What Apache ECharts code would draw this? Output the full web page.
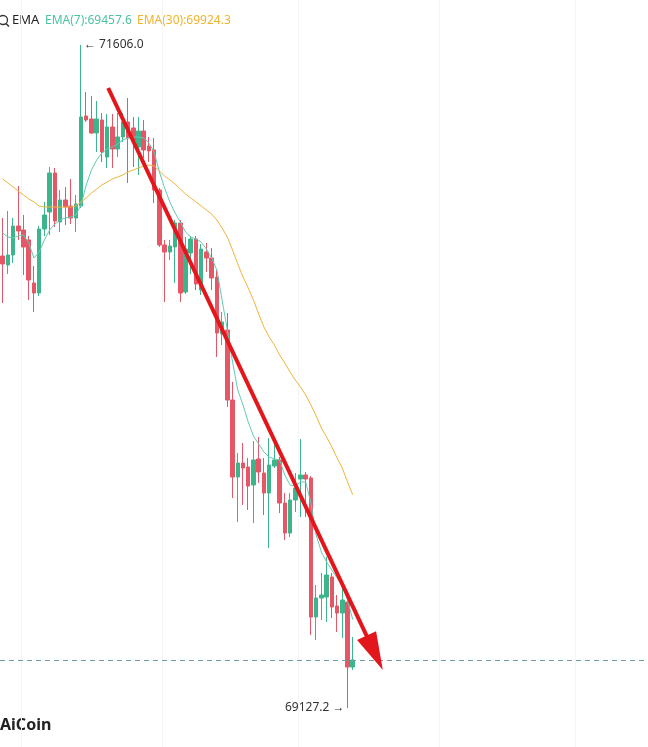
<!DOCTYPE html>
<html>
<head>
<meta charset="utf-8">
<script src="https://cdn.jsdelivr.net/npm/echarts@6/dist/echarts.min.js"></script>
<style>
html,body{margin:0;padding:0;background:#fff;}
#chart{width:648px;height:747px;}
</style>
</head>
<body>
<div id="chart"></div>
<script>
// ---- data ----
const opens = [70817.1, 70783.4, 70820.8, 70929.2, 70914.3, 70876.9, 70716.1, 70678.7, 70918.0, 70981.6,
  71127.4, 70944.2, 71026.4, 71004.0, 70959.1, 71004.0, 71340.5, 71329.3, 71276.9, 71325.5,
  71187.2, 71299.4, 71217.1, 71262.0, 71318.1, 71295.6, 71224.6, 71284.4, 71228.3, 71213.4,
  71063.8, 70858.2, 70832.0, 70850.7, 70940.5, 70682.5, 70828.3, 70880.6, 70690.0, 70832.0,
  70809.6, 70738.6, 70525.4, 70540.4, 70278.7, 69990.8, 70043.1, 70028.2, 69960.9, 70058.1,
  70005.8, 69931.0, 70031.9, 70054.4, 69893.6, 69781.4, 69904.8, 69983.3, 69998.3, 69987.1,
  69467.4, 69538.4, 69542.1, 69616.9, 69508.5, 69482.3, 69523.4, 69280.4];
const closes = [70787.2, 70820.8, 70929.2, 70910.5, 70850.7, 70727.3, 70678.7, 70918.0, 70970.4, 71127.4,
  70947.9, 71026.4, 71000.3, 70959.1, 71011.5, 71336.8, 71325.5, 71276.9, 71329.3, 71205.9,
  71299.4, 71217.1, 71262.0, 71318.1, 71258.2, 71247.0, 71284.4, 71213.4, 71209.6, 71063.8,
  70858.2, 70832.0, 70854.5, 70940.5, 70678.7, 70843.2, 70880.6, 70712.4, 70843.2, 70809.6,
  70734.8, 70529.2, 70570.3, 70278.7, 69990.8, 70043.1, 70024.4, 69957.1, 70054.4, 70009.5,
  69931.0, 70035.7, 70054.4, 69893.6, 69781.4, 69904.8, 69949.7, 69998.3, 69983.3, 69467.4,
  69538.4, 69549.6, 69624.4, 69504.8, 69482.3, 69530.9, 69280.4, 69306.6];
const lows = [70641.3, 70749.8, 70790.9, 70876.9, 70746.0, 70652.6, 70607.7, 70667.5, 70891.8, 70895.6,
  70925.5, 70906.8, 70933.0, 70936.7, 70906.8, 70996.5, 71318.1, 71273.2, 71205.9, 71168.5,
  71146.1, 71146.1, 71187.2, 71243.3, 71090.0, 71149.8, 71119.9, 71183.5, 71168.5, 71015.2,
  70850.7, 70645.1, 70802.1, 70716.1, 70645.1, 70675.0, 70749.8, 70690.0, 70671.3, 70757.3,
  70690.0, 70439.5, 70484.3, 70252.5, 69912.3, 69822.6, 69886.1, 69867.4, 69818.8, 69968.4,
  69848.7, 69725.3, 70024.4, 69856.2, 69755.3, 69766.5, 69859.9, 69841.2, 69841.2, 69400.1,
  69381.4, 69456.1, 69448.7, 69463.6, 69411.3, 69388.9, 69127.2, 69269.2];
const highs = [70959.1, 70985.3, 70959.1, 71078.8, 70970.4, 70891.8, 70779.7, 70929.2, 71019.0, 71149.8,
  71146.1, 71063.8, 71075.0, 71105.0, 71045.1, 71606.0, 71430.2, 71415.3, 71396.6, 71351.7,
  71348.0, 71348.0, 71351.7, 71351.7, 71407.8, 71336.8, 71336.8, 71325.5, 71262.0, 71258.2,
  71071.3, 70876.9, 70876.9, 70951.7, 70951.7, 70888.1, 70891.8, 70891.8, 70861.9, 70865.7,
  70847.0, 70764.7, 70607.7, 70604.0, 70346.0, 70080.5, 70117.9, 70061.8, 70125.4, 70140.3,
  70061.8, 70136.6, 70110.4, 70065.6, 69931.0, 69931.0, 70005.8, 70132.9, 70009.5, 69994.5,
  69587.0, 69631.9, 69691.7, 69631.9, 69549.6, 69587.0, 69538.4, 69392.6];
const ma7 = [70903.1, 70888.1, 70884.4, 70891.8, 70895.6, 70865.7, 70809.6, 70832.0, 70876.9, 70914.3,
  70936.7, 70951.7, 70959.1, 70962.9, 70970.4, 71007.8, 71082.5, 71138.6, 71176.0, 71202.2,
  71217.1, 71224.6, 71235.8, 71250.8, 71258.2, 71262.0, 71262.0, 71258.2, 71239.6, 71205.9,
  71131.1, 71071.3, 71019.0, 70977.8, 70944.2, 70906.8, 70888.1, 70880.6, 70869.4, 70843.2,
  70809.6, 70764.7, 70652.6, 70540.4, 70420.8, 70316.1, 70260.0, 70196.4, 70144.1, 70114.2,
  70084.3, 70065.6, 70058.1, 70054.4, 69998.3, 69960.9, 69957.1, 69972.1, 69972.1, 69893.6,
  69773.9, 69710.4, 69673.0, 69643.1, 69613.2, 69587.0, 69530.9, 69457.6];
const ema30 = [71105.0, 71090.0, 71075.0, 71060.1, 71045.1, 71030.2, 71019.0, 71004.0, 71000.3, 71000.3,
  71000.3, 71000.3, 71000.3, 71000.3, 71004.0, 71019.0, 71033.9, 71052.6, 71067.6, 71082.5,
  71093.7, 71105.0, 71112.4, 71119.9, 71131.1, 71138.6, 71146.1, 71153.6, 71157.3, 71153.6,
  71134.9, 71116.2, 71101.2, 71086.3, 71067.6, 71048.9, 71033.9, 71019.0, 71004.0, 70989.1,
  70974.1, 70951.7, 70921.8, 70888.1, 70839.5, 70787.2, 70738.6, 70697.4, 70652.6, 70600.2,
  70551.6, 70514.2, 70484.3, 70446.9, 70417.0, 70383.4, 70353.5, 70327.3, 70297.4, 70260.0,
  70218.9, 70174.0, 70140.3, 70103.0, 70061.8, 70024.4, 69972.1, 69924.3];
// trend arrow drawn on the chart (slot index, price)
const arrowFrom = [20.2, 71445.2];
const arrowTo = [71.2, 69333.5];
const totalSlots = 124;
const gridCols = [4, 31, 57, 84, 110];
const priceMin = 68981.3, priceMax = 71774.2;

// ---- build ----
const slots = [];
for (let i = 0; i < totalSlots; i++) slots.push(String(i + 1));
const candles = opens.map((o, i) => [o, closes[i], lows[i], highs[i]]);
const last = closes.length - 1;
const fmt = v => v.toFixed(1);

const UP = '#3cb58c', DOWN = '#e55766';
const chart = echarts.init(document.getElementById('chart'), null, {renderer: 'canvas'});
chart.setOption({
  animation: false,
  backgroundColor: '#ffffff',
  grid: {left: 0, right: 0, top: 0, bottom: 0},
  xAxis: [{
    type: 'category', data: slots, boundaryGap: true,
    axisLine: {show: false}, axisTick: {show: false}, axisLabel: {show: false},
    splitLine: {show: true, interval: (i) => gridCols.indexOf(i) >= 0, lineStyle: {color: '#f5f5f5', width: 1}}
  }, {
    type: 'value', min: -0.5, max: totalSlots - 0.5, show: false, splitLine: {show: false}
  }],
  yAxis: [{
    type: 'value', min: priceMin, max: priceMax, show: false, scale: true, splitLine: {show: false}
  }],
  series: [{
    type: 'candlestick', name: 'K', xAxisIndex: 0, yAxisIndex: 0,
    data: candles, barWidth: 4,
    itemStyle: {color: UP, color0: DOWN, borderColor: UP, borderColor0: DOWN, borderWidth: 1},
    markPoint: {
      symbol: 'circle', symbolSize: 0,
      data: [
        {type: 'max', valueDim: 'highest', label: {position: 'right', distance: 3, formatter: p => '← ' + fmt(p.value)}},
        {type: 'min', valueDim: 'lowest', label: {position: 'left', distance: 3, formatter: p => fmt(p.value) + ' →'}}
      ],
      label: {show: true, color: '#333', fontSize: 12, fontFamily: 'Noto Sans'}
    },
    markLine: {
      silent: true, symbol: 'none', label: {show: false},
      lineStyle: {type: [5, 4], color: '#6e9fa0', width: 1},
      data: [{yAxis: closes[last]}]
    }
  }, {
    type: 'line', name: 'EMA(7)', data: ma7, xAxisIndex: 0, yAxisIndex: 0,
    symbol: 'none', lineStyle: {color: '#62cbb4', width: 1}, z: 3
  }, {
    type: 'line', name: 'EMA(30)', data: ema30, xAxisIndex: 0, yAxisIndex: 0,
    symbol: 'none', lineStyle: {color: '#f0b43c', width: 1}, z: 3
  }, {
    type: 'lines', coordinateSystem: 'cartesian2d', xAxisIndex: 1, yAxisIndex: 0,
    data: [{coords: [arrowFrom, arrowTo]}],
    symbol: ['none', 'triangle'], symbolSize: [0, [21, 38]],
    lineStyle: {color: '#e3161c', width: 4, opacity: 1, curveness: 0},
    z: 10
  }],
  graphic: [
    {type: 'circle', shape: {cx: 3, cy: 20, r: 4.5}, style: {fill: 'none', stroke: '#333', lineWidth: 1.3}},
    {type: 'line', shape: {x1: 6, y1: 23.5, x2: 9, y2: 26.5}, style: {stroke: '#333', lineWidth: 1.5}},
    {type: 'text', left: 12, top: 14, style: {text: 'EMA', fill: '#222', fontSize: 13, fontFamily: 'Noto Sans'}},
    {type: 'text', left: 45, top: 15, style: {text: 'EMA(7):' + fmt(ma7[last]), fill: '#4cc4a4', fontSize: 12, fontFamily: 'Noto Sans'}},
    {type: 'text', left: 137, top: 15, style: {text: 'EMA(30):' + fmt(ema30[last]), fill: '#f0b42e', fontSize: 12, fontFamily: 'Noto Sans'}},
    {type: 'text', left: 0, top: 717, style: {text: 'AiCoin', fill: '#222', fontSize: 16, fontWeight: 'bold', fontFamily: 'Noto Sans'}}
  ]
});
</script>
</body>
</html>
